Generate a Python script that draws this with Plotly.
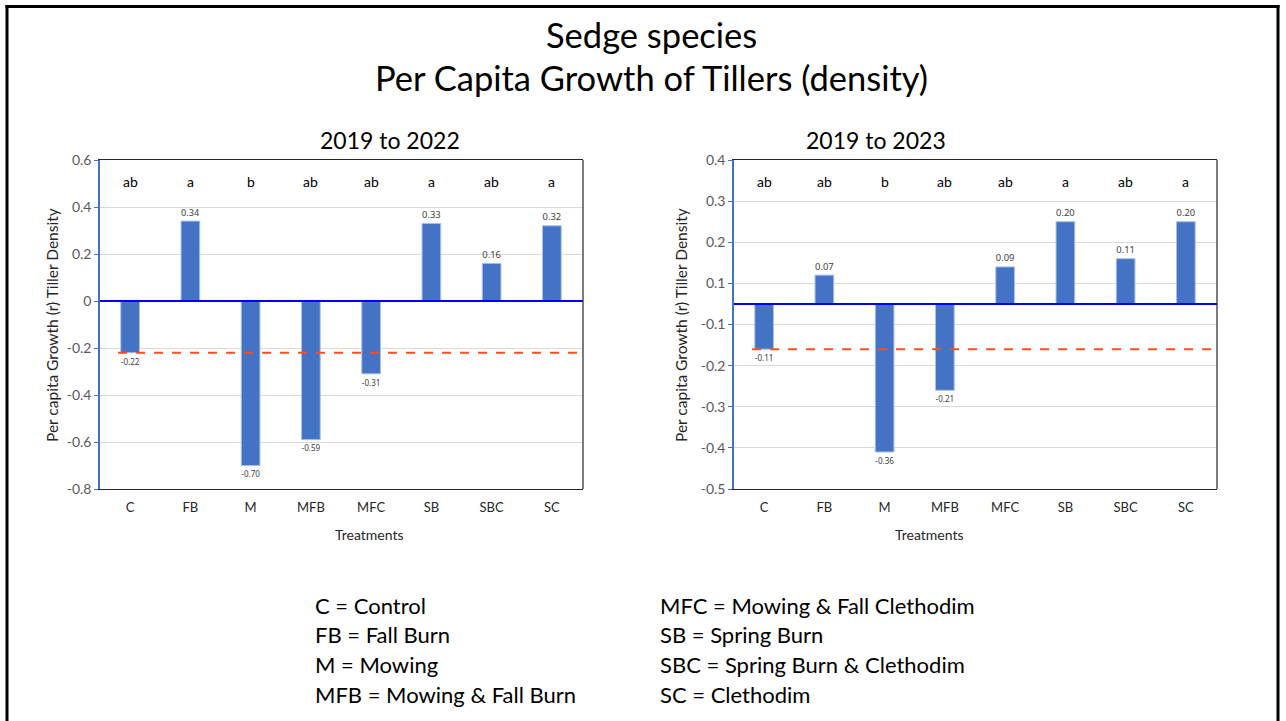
import plotly.graph_objects as go

categories = ["C", "FB", "M", "MFB", "MFC", "SB", "SBC", "SC"]
vals_2022 = [-0.22, 0.34, -0.70, -0.59, -0.31, 0.33, 0.16, 0.32]
vals_2023 = [-0.11, 0.07, -0.36, -0.21, 0.09, 0.20, 0.11, 0.20]
letters_2022 = ["ab", "a", "b", "ab", "ab", "a", "ab", "a"]
letters_2023 = ["ab", "ab", "b", "ab", "ab", "a", "ab", "a"]
ticks_2022 = [-0.8, -0.6, -0.4, -0.2, 0, 0.2, 0.4, 0.6]
ticktext_2022 = ["-0.8", "-0.6", "-0.4", "-0.2", "0", "0.2", "0.4", "0.6"]
ticks_2023 = [0.35, 0.25, 0.15, 0.05, -0.05, -0.15, -0.25, -0.35, -0.45]
ticktext_2023 = ["0.4", "0.3", "0.2", "0.1", "-0.1", "-0.2", "-0.3", "-0.4", "-0.5"]
legend_left = ["C = Control", "FB = Fall Burn", "M = Mowing", "MFB = Mowing & Fall Burn"]
legend_right = ["MFC = Mowing & Fall Clethodim", "SB = Spring Burn",
                "SBC = Spring Burn & Clethodim", "SC = Clethodim"]

W, H = 1286, 721
FONT = "Lato"
BAR = "#4472C4"

def px(x):
    return x / W

def py(y):
    return 1 - y / H

fig = go.Figure()

for vals, xa, ya in [(vals_2022, "x", "y"), (vals_2023, "x2", "y2")]:
    fig.add_trace(go.Bar(
        x=categories, y=vals, xaxis=xa, yaxis=ya,
        marker=dict(color=BAR, line=dict(color="#A9C0E8", width=1)),
        texttemplate="%{y:.2f}", textposition="outside",
        textfont=dict(family="Noto Sans", size=11, color="#404040"),
        cliponaxis=False, showlegend=False, hoverinfo="x+y",
    ))

dom_y = [py(489), py(160)]
axis_common = dict(
    showgrid=False, linecolor="#262626", linewidth=1, showline=True, mirror=True,
    tickfont=dict(family=FONT, size=13, color="#262626"), ticks="",
    ticklabelstandoff=6, automargin=False, fixedrange=True,
)
yaxis_common = dict(
    showgrid=True, gridcolor="#D9D9D9", gridwidth=1, zeroline=False,
    showline=True, linecolor="#4472C4", linewidth=1.5,
    ticks="outside", ticklen=4, tickcolor="#4472C4",
    tickfont=dict(family=FONT, size=14, color="#595959"),
    automargin=False, fixedrange=True,
)

fig.update_layout(
    width=W, height=H,
    margin=dict(l=0, r=0, t=0, b=0, autoexpand=False),
    paper_bgcolor="white", plot_bgcolor="white",
    bargap=0.69,
    xaxis=dict(domain=[px(100), px(583)], anchor="y", **axis_common),
    xaxis2=dict(domain=[px(734), px(1217)], anchor="y2", **axis_common),
    yaxis=dict(domain=dom_y, anchor="x", range=[-0.8, 0.6],
               tickvals=ticks_2022, ticktext=ticktext_2022, **yaxis_common),
    yaxis2=dict(domain=dom_y, anchor="x2", range=[-0.45, 0.35],
                tickvals=ticks_2023, ticktext=ticktext_2023, **yaxis_common),
)

shapes = []
annotations = []
for xa, ya, vals, letters in [("x", "y", vals_2022, letters_2022),
                              ("x2", "y2", vals_2023, letters_2023)]:
    shapes.append(dict(type="line", xref=xa, yref=ya, x0=-0.2, x1=7.5,
                       y0=vals[0], y1=vals[0],
                       line=dict(color="#FF4D1F", width=2, dash="dash")))
    shapes.append(dict(type="line", xref=xa + " domain", yref=ya, x0=0, x1=1,
                       y0=0, y1=0, line=dict(color="#0000FF", width=2)))
    # right border of the plot area
    shapes.append(dict(type="line", xref=xa + " domain", yref=ya + " domain", x0=1, x1=1,
                       y0=0, y1=1, line=dict(color="#262626", width=1.2)))
    for c, l in zip(categories, letters):
        annotations.append(dict(xref=xa, yref=ya + " domain", x=c, y=0.936,
                                yanchor="middle", text=l, showarrow=False,
                                font=dict(family=FONT, size=14, color="#000000")))

# axis titles
for xc, yx in [(333, 52), (966, 681)]:
    annotations.append(dict(xref="paper", yref="paper", x=px(xc), y=py(534),
                            yanchor="middle", text="Treatments", showarrow=False,
                            font=dict(family=FONT, size=14, color="#262626")))
    annotations.append(dict(xref="paper", yref="paper", x=px(yx), y=py(325),
                            xanchor="center", yanchor="middle", textangle=-90,
                            text="Per capita Growth (r) Tiller Density", showarrow=False,
                            font=dict(family=FONT, size=15.5, color="#262626")))

# frame
shapes += [
    dict(type="line", xref="paper", yref="paper", x0=px(7), x1=px(7), y0=py(5), y1=py(730),
         line=dict(color="black", width=3)),
    dict(type="line", xref="paper", yref="paper", x0=px(5.5), x1=px(1279.5), y0=py(6.5), y1=py(6.5),
         line=dict(color="black", width=3)),
    dict(type="line", xref="paper", yref="paper", x0=px(1278), x1=px(1278), y0=py(5), y1=py(730),
         line=dict(color="black", width=3)),
]

annotations += [
    dict(xref="paper", yref="paper", x=px(651), y=py(35), yanchor="middle", text="Sedge species",
         showarrow=False, font=dict(family=FONT, size=34.5, color="black")),
    dict(xref="paper", yref="paper", x=px(651), y=py(78), yanchor="middle",
         text="Per Capita Growth of Tillers (density)",
         showarrow=False, font=dict(family=FONT, size=34.5, color="black")),
    dict(xref="paper", yref="paper", x=px(318), y=py(140), yanchor="middle", text="2019 to 2022",
         showarrow=False, font=dict(family=FONT, size=23, color="black")),
    dict(xref="paper", yref="paper", x=px(948), y=py(140), yanchor="middle", text="2019 to 2023",
         showarrow=False, font=dict(family=FONT, size=23, color="black")),
]
for i, t in enumerate(legend_left):
    annotations.append(dict(xref="paper", yref="paper", x=px(313), y=py(605 + i * 29.7),
                            xanchor="left", yanchor="middle", text=t, showarrow=False,
                            font=dict(family=FONT, size=22, color="black")))
for i, t in enumerate(legend_right):
    annotations.append(dict(xref="paper", yref="paper", x=px(658), y=py(605 + i * 29.7),
                            xanchor="left", yanchor="middle", text=t, showarrow=False,
                            font=dict(family=FONT, size=22, color="black")))

fig.update_layout(shapes=shapes, annotations=annotations)
fig.write_html("out.html",
               config={"displayModeBar": False},
               post_script="document.body.style.margin='0px';document.body.style.overflow='hidden';")
